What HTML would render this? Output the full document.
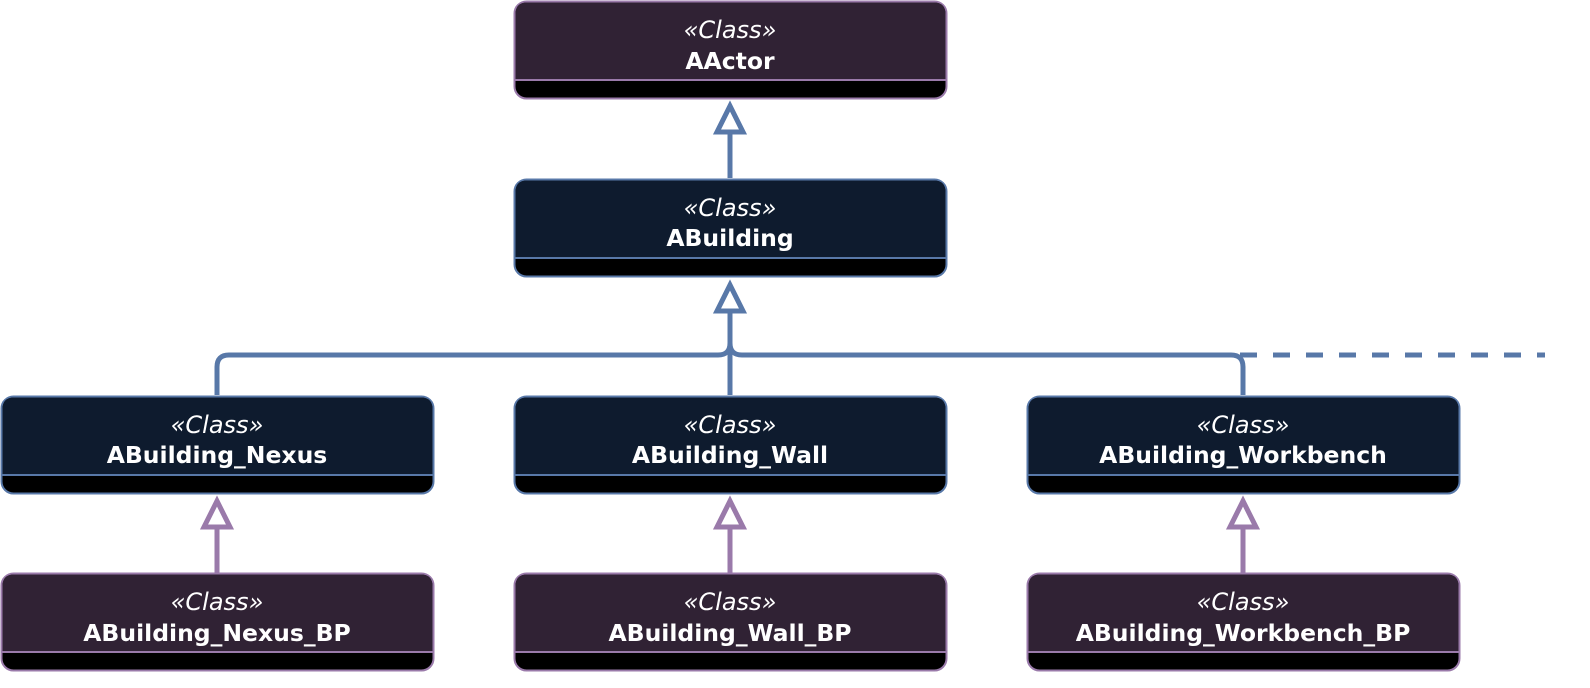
<!DOCTYPE html>
<html><head><meta charset="utf-8"><style>
html,body{margin:0;padding:0;background:#fff;width:1590px;height:688px;overflow:hidden}
svg{display:block}
text{font-family:"DejaVu Sans","Liberation Sans",sans-serif;fill:#fff;text-anchor:middle}
.s{font-style:italic;font-size:24px}
.n{font-weight:bold;font-size:23.5px}
</style></head><body>
<svg width="1590" height="688" viewBox="0 0 1590 688" xmlns="http://www.w3.org/2000/svg">
<g fill="none" stroke="#5878a8" stroke-width="5">
<line x1="730" y1="130" x2="730" y2="178"/>
<line x1="730" y1="308" x2="730" y2="395"/>
<path d="M217 395 V367 Q217 355 229 355 H718 Q730 355 730 343"/>
<path d="M1243 395 V367 Q1243 355 1231 355 H742 Q730 355 730 343"/>
<line x1="1240" y1="355" x2="1545" y2="355" stroke-dasharray="17 16"/>
</g>
<g fill="#fff" stroke="#5878a8" stroke-width="5">
<polygon points="730,106 717,132 743,132"/>
<polygon points="730,285 717,311 743,311"/>
</g>
<g stroke="#9a7aaa" stroke-width="5">
<line x1="217" y1="525" x2="217" y2="573"/>
<line x1="730" y1="525" x2="730" y2="573"/>
<line x1="1243" y1="525" x2="1243" y2="573"/>
</g>
<g fill="#fff" stroke="#9a7aaa" stroke-width="5">
<polygon points="217,501 204,527 230,527"/>
<polygon points="730,501 717,527 743,527"/>
<polygon points="1243,501 1230,527 1256,527"/>
</g>
<g>
<rect x="514.5" y="1.5" width="432" height="97" rx="12" fill="#000" stroke="#9a7aaa" stroke-width="2"/>
<path d="M515.5 80 V14 Q515.5 2.5 527 2.5 H934 Q945.5 2.5 945.5 14 V80 Z" fill="#302234"/>
<line x1="515" y1="80" x2="946" y2="80" stroke="#9a7aaa" stroke-width="2"/>
<text class="s" x="730" y="38">«Class»</text><text class="n" x="730" y="69">AActor</text>
</g>
<g>
<rect x="514.5" y="179.5" width="432" height="97" rx="12" fill="#000" stroke="#5878a8" stroke-width="2"/>
<path d="M515.5 258 V192 Q515.5 180.5 527 180.5 H934 Q945.5 180.5 945.5 192 V258 Z" fill="#0e1b2e"/>
<line x1="515" y1="258" x2="946" y2="258" stroke="#5878a8" stroke-width="2"/>
<text class="s" x="730" y="216">«Class»</text><text class="n" x="730" y="246">ABuilding</text>
</g>
<g>
<rect x="1.5" y="396.5" width="432" height="97" rx="12" fill="#000" stroke="#5878a8" stroke-width="2"/>
<path d="M2.5 475 V409 Q2.5 397.5 14 397.5 H421 Q432.5 397.5 432.5 409 V475 Z" fill="#0e1b2e"/>
<line x1="2" y1="475" x2="433" y2="475" stroke="#5878a8" stroke-width="2"/>
<text class="s" x="217" y="433">«Class»</text><text class="n" x="217" y="463">ABuilding_Nexus</text>
</g>
<g>
<rect x="514.5" y="396.5" width="432" height="97" rx="12" fill="#000" stroke="#5878a8" stroke-width="2"/>
<path d="M515.5 475 V409 Q515.5 397.5 527 397.5 H934 Q945.5 397.5 945.5 409 V475 Z" fill="#0e1b2e"/>
<line x1="515" y1="475" x2="946" y2="475" stroke="#5878a8" stroke-width="2"/>
<text class="s" x="730" y="433">«Class»</text><text class="n" x="730" y="463">ABuilding_Wall</text>
</g>
<g>
<rect x="1027.5" y="396.5" width="432" height="97" rx="12" fill="#000" stroke="#5878a8" stroke-width="2"/>
<path d="M1028.5 475 V409 Q1028.5 397.5 1040 397.5 H1447 Q1458.5 397.5 1458.5 409 V475 Z" fill="#0e1b2e"/>
<line x1="1028" y1="475" x2="1459" y2="475" stroke="#5878a8" stroke-width="2"/>
<text class="s" x="1243" y="433">«Class»</text><text class="n" x="1243" y="463">ABuilding_Workbench</text>
</g>
<g>
<rect x="1.5" y="573.5" width="432" height="97" rx="12" fill="#000" stroke="#9a7aaa" stroke-width="2"/>
<path d="M2.5 652 V586 Q2.5 574.5 14 574.5 H421 Q432.5 574.5 432.5 586 V652 Z" fill="#302234"/>
<line x1="2" y1="652" x2="433" y2="652" stroke="#9a7aaa" stroke-width="2"/>
<text class="s" x="217" y="610">«Class»</text><text class="n" x="217" y="641">ABuilding_Nexus_BP</text>
</g>
<g>
<rect x="514.5" y="573.5" width="432" height="97" rx="12" fill="#000" stroke="#9a7aaa" stroke-width="2"/>
<path d="M515.5 652 V586 Q515.5 574.5 527 574.5 H934 Q945.5 574.5 945.5 586 V652 Z" fill="#302234"/>
<line x1="515" y1="652" x2="946" y2="652" stroke="#9a7aaa" stroke-width="2"/>
<text class="s" x="730" y="610">«Class»</text><text class="n" x="730" y="641">ABuilding_Wall_BP</text>
</g>
<g>
<rect x="1027.5" y="573.5" width="432" height="97" rx="12" fill="#000" stroke="#9a7aaa" stroke-width="2"/>
<path d="M1028.5 652 V586 Q1028.5 574.5 1040 574.5 H1447 Q1458.5 574.5 1458.5 586 V652 Z" fill="#302234"/>
<line x1="1028" y1="652" x2="1459" y2="652" stroke="#9a7aaa" stroke-width="2"/>
<text class="s" x="1243" y="610">«Class»</text><text class="n" x="1243" y="641">ABuilding_Workbench_BP</text>
</g>
</svg>
</body></html>
